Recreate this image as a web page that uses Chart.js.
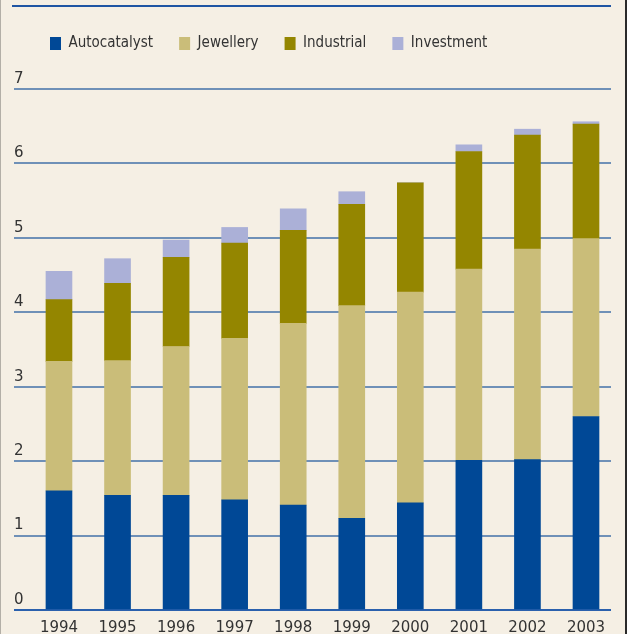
<!DOCTYPE html>
<html>
<head>
	<title>Platinum demand</title>
	<script src="https://cdn.jsdelivr.net/npm/chart.js@4.4.1/dist/chart.umd.min.js"></script>
	<style>
		body { margin: 0; background: #f5efe4; }
		#wrap { position: relative; width: 627px; height: 634px; }
		#topline { position: absolute; left: 12px; top: 5px; width: 599px; height: 2px; background: #1f55a3; }
		#lborder { position: absolute; left: 0; top: 0; width: 1px; height: 634px; background: #b3afa7; }
		#rborder { position: absolute; right: 0; top: 0; width: 2px; height: 634px; background: #2a2a2a; }
	</style>
</head>
<body>
	<div id="wrap">
		<canvas id="chart" width="627" height="634"></canvas>
		<div id="topline"></div>
		<div id="lborder"></div>
		<div id="rborder"></div>
	</div>
	<script>
		var years = [1994, 1995, 1996, 1997, 1998, 1999, 2000, 2001, 2002, 2003];
		var autocatalyst = [1.60, 1.54, 1.54, 1.48, 1.41, 1.23, 1.44, 2.01, 2.02, 2.60];
		var jewellery = [1.74, 1.81, 2.00, 2.17, 2.44, 2.86, 2.83, 2.57, 2.83, 2.39];
		var industrial = [0.83, 1.04, 1.20, 1.28, 1.25, 1.36, 1.47, 1.58, 1.53, 1.54];
		var investment = [0.38, 0.33, 0.23, 0.21, 0.29, 0.17, 0, 0.09, 0.08, 0.03];
		var yTicks = [0, 1, 2, 3, 4, 5, 6, 7];

		function pts(values) {
			return years.map(function (y, i) { return { x: y, y: values[i] }; });
		}

		// room between legend and plot, and push legend a bit right
		var legendTweak = {
			id: 'legendTweak',
			beforeInit: function (chart) {
				var fit = chart.legend.fit;
				chart.legend.fit = function () {
					fit.bind(chart.legend)();
					this.height += 28;
				};
			},
			afterLayout: function (chart) {
				chart.legend.left += 10;
			}
		};

		var ctx = document.getElementById('chart').getContext('2d');
		var chart = new Chart(ctx, {
			type: 'bar',
			data: {
				datasets: [
					{ label: 'Autocatalyst', data: pts(autocatalyst), backgroundColor: '#004896' },
					{ label: 'Jewellery', data: pts(jewellery), backgroundColor: '#cabd79' },
					{ label: 'Industrial', data: pts(industrial), backgroundColor: '#948600' },
					{ label: 'Investment', data: pts(investment), backgroundColor: '#abb0d7' }
				]
			},
			options: {
				responsive: false,
				animation: false,
				barThickness: 26,
				layout: { padding: { left: 14, right: 16, top: 10, bottom: -13 } },
				plugins: {
					tooltip: { enabled: false },
					legend: {
						position: 'top',
						align: 'start',
						labels: {
							boxWidth: 11,
							boxHeight: 13,
							padding: 26,
							color: '#333',
							font: { family: "'Liberation Sans Narrow', 'DejaVu Sans Condensed', sans-serif", size: 15 }
						}
					}
				},
				scales: {
					x: {
						type: 'linear',
						stacked: true,
						offset: false,
						min: 1993.232,
						max: 2003.427,
						afterBuildTicks: function (axis) {
							axis.ticks = years.map(function (v) { return { value: v }; });
						},
						grid: { display: false, drawTicks: false, offset: false },
						border: { display: false },
						ticks: {
							padding: 9.5,
							autoSkip: false,
							maxRotation: 0,
							color: '#333',
							font: { family: "'DejaVu Sans', sans-serif", size: 15 },
							callback: function (v) { return String(v); }
						}
					},
					y: {
						stacked: true,
						min: 0,
						max: 7,
						afterBuildTicks: function (axis) {
							axis.ticks = yTicks.map(function (v) { return { value: v }; });
						},
						border: { display: false },
						grid: {
							drawTicks: false,
							lineWidth: 2,
							color: function (c) { return c.tick && c.tick.value === 0 ? '#2a60ad' : '#6f90b7'; }
						},
						ticks: {
							mirror: true,
							padding: 0,
							labelOffset: -10,
							color: '#333',
							font: { family: "'DejaVu Sans', sans-serif", size: 15 }
						}
					}
				}
			},
			plugins: [legendTweak]
		});
	</script>
</body>
</html>
